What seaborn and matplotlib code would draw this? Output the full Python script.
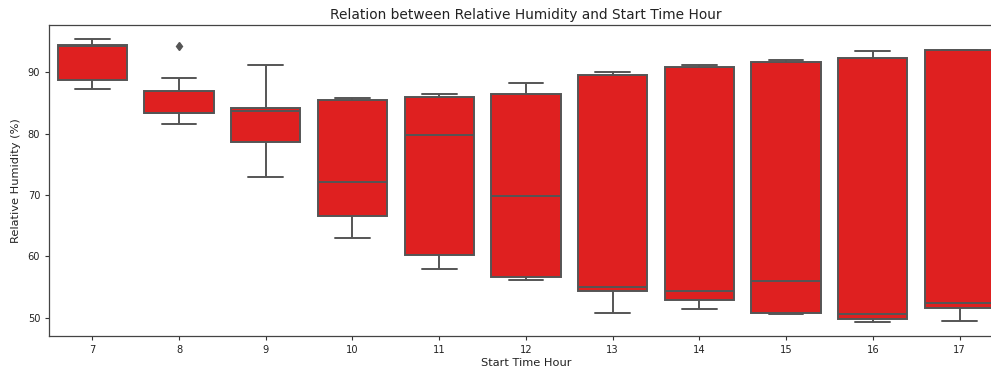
import matplotlib
matplotlib.use("Agg")
import matplotlib.pyplot as plt
import seaborn as sns
import pandas as pd

# Hourly relative humidity summary (%)
hours = [7, 8, 9, 10, 11, 12, 13, 14, 15, 16, 17]
lows = [87.3, 81.6, 73.0, 63.0, 58.0, 56.2, 50.8, 51.4, 50.6, 49.3, 49.5]
q1s = [88.8, 83.4, 78.7, 66.6, 60.2, 56.6, 54.3, 52.8, 50.8, 49.7, 51.6]
medians = [94.2, 83.4, 83.7, 72.1, 79.7, 69.9, 55.0, 54.4, 56.0, 50.6, 52.3]
q3s = [94.5, 86.9, 84.1, 85.4, 85.9, 86.5, 89.5, 90.9, 91.6, 92.4, 93.6]
highs = [95.4, 89.1, 91.1, 85.8, 86.4, 88.2, 90.0, 91.2, 92.0, 93.5, 93.6]
outliers = {8: 94.2}

# Observations per hour, laid out so the quartiles land on the summary values
rows = []
for h, lo, a, m, b, hi in zip(hours, lows, q1s, medians, q3s, highs):
    top = outliers.get(h, hi)
    for v in [lo, a, a, m, m, b, b, hi, top]:
        rows.append({"Start Time Hour": h, "Relative Humidity (%)": v})
df = pd.DataFrame(rows)

sns.set_style("white")
plt.rcParams["font.family"] = ["DejaVu Sans"]

fig = plt.figure(figsize=(9.91, 3.74), dpi=100)
ax = fig.add_axes([0.0494, 0.1016, 0.9626, 0.8316])

line_col = "#555555"
sns.boxplot(
    data=df, x="Start Time Hour", y="Relative Humidity (%)",
    color="red", saturation=0.75, width=0.8, linewidth=1.4,
    linecolor=line_col,
    flierprops=dict(marker="d", markerfacecolor=line_col,
                    markeredgecolor=line_col, markersize=4.5),
    ax=ax,
)

ax.set_title("Relation between Relative Humidity and Start Time Hour",
             fontsize=9.9, pad=4.5, color="#222222")
ax.set_xlabel("Start Time Hour", fontsize=8.2, labelpad=2.5, color="#222222")
ax.set_ylabel("Relative Humidity (%)", fontsize=8.2, labelpad=4.8, color="#222222")
ax.set_yticks([50, 60, 70, 80, 90])
ax.tick_params(axis="both", labelsize=7.1, length=3, width=0.8, pad=3.3,
               color="#333333", labelcolor="#222222", left=True, bottom=True)
for s in ax.spines.values():
    s.set_color("#444444")
    s.set_linewidth(0.9)

fig.savefig("out.png", dpi=100)
